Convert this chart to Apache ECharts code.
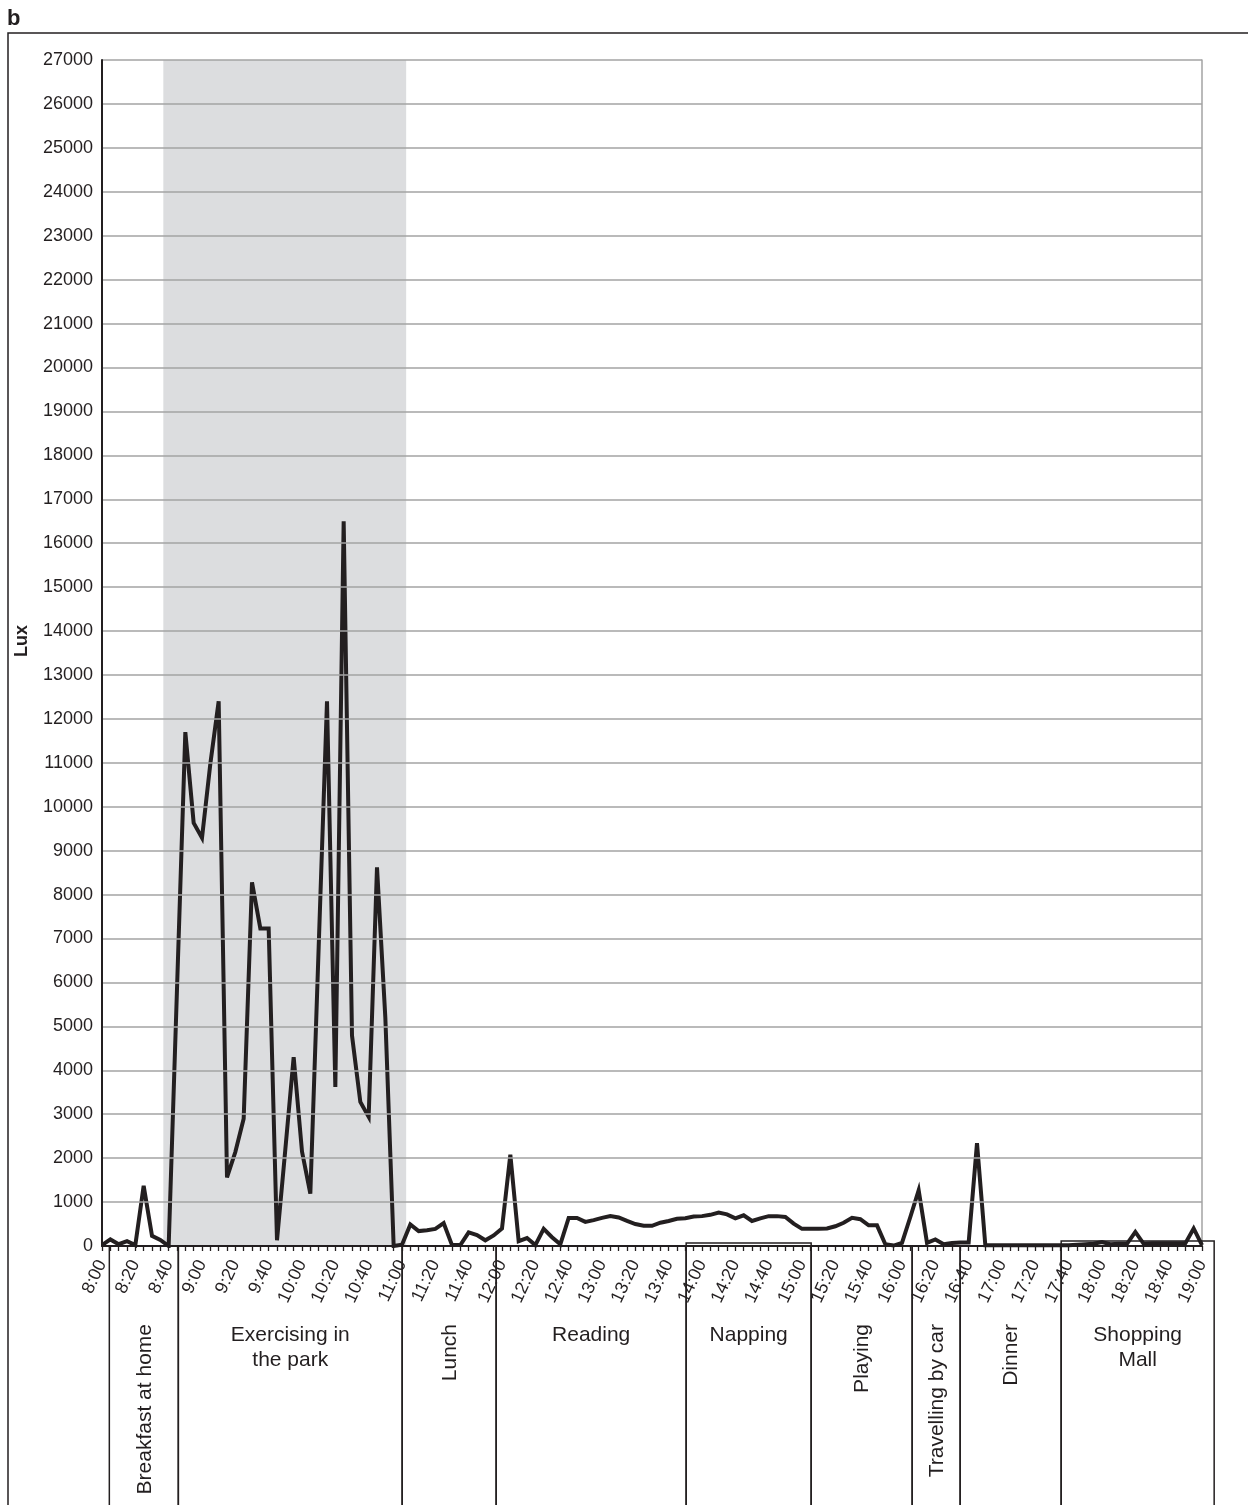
<!DOCTYPE html>
<html>
<head>
<meta charset="utf-8">
<script src="https://cdn.jsdelivr.net/npm/echarts@6/dist/echarts.min.js"></script>
<style>
  html, body { margin: 0; padding: 0; background: #ffffff; }
  #chart { width: 1248px; height: 1505px; }
</style>
</head>
<body>
<div id="chart"></div>
<script>
// ---- Data (lux measured every 5 minutes from 8:00 to 19:00) ----
const lux = [
  20, 150, 40, 110, 20, 1370, 230, 140, 0, 5850,
  11700, 9630, 9290, 10980, 12400, 1560, 2140, 2900, 8280, 7230,
  7230, 130, 2200, 4300, 2150, 1190, 6800, 12400, 3620, 16500,
  4790, 3280, 2940, 8620, 5200, 0, 30, 490, 340, 360,
  390, 520, 20, 20, 310, 250, 130, 240, 400, 2080,
  110, 180, 20, 390, 200, 40, 640, 640, 550, 590,
  640, 680, 650, 570, 500, 460, 460, 530, 570, 620,
  630, 670, 680, 710, 760, 720, 630, 700, 570, 630,
  680, 680, 660, 510, 390, 390, 390, 400, 450, 530,
  640, 610, 470, 470, 40, 10, 70, 660, 1270, 70,
  150, 40, 70, 80, 80, 2340, 15, 15, 15, 15,
  15, 15, 15, 15, 15, 15, 15, 30, 40, 50,
  90, 40, 50, 50, 320, 50, 60, 60, 60, 60,
  60, 400, 20
];
const sampleStepMin = 5;                 // sampling interval (minutes after 8:00)
const startHour = 8;

// Shaded (outdoor) period, minutes after 8:00
const shadeStart = 36.8;
const shadeEnd = 182.5;

// Activities (minutes after 8:00)
const activityNames = ['Breakfast at home', 'Exercising in\nthe park', 'Lunch', 'Reading', 'Napping',
                       'Playing', 'Travelling by car', 'Dinner', 'Shopping\nMall'];
const activityStart = [4.4, 45.8, 180.1, 236.5, 350.5, 425.5, 486.1, 514.9, 575.5];
const activityEnd   = [45.8, 180.1, 236.5, 350.5, 425.5, 486.1, 514.9, 575.5, 667.3];
const activityVertical = [true, false, true, false, false, true, true, true, false];
const activityBoxRaise = [0, 0, 0, 0, 3, 0, 0, 0, 5];

// axes
const yMin = 0, yMax = 27000, yStep = 1000;
const xMin = 0, xMax = 660, xStep = 20;

function fmtTime(m) {
  const h = startHour + Math.floor(m / 60);
  const mm = Math.round(m % 60);
  return h + ':' + String(mm).padStart(2, '0');
}

const seriesData = lux.map((v, i) => [i * sampleStepMin, v]);

const INK = '#231f20';
const FONT = '"Liberation Sans", Arial, Helvetica, sans-serif';

const chart = echarts.init(document.getElementById('chart'), null, { renderer: 'canvas' });

const option = {
  animation: false,
  backgroundColor: '#ffffff',
  title: {
    text: 'b', left: 2, top: 3,
    textStyle: { fontFamily: FONT, fontWeight: 'bold', fontSize: 22, color: INK }
  },
  grid: { left: 102, right: 46, top: 60, bottom: 259, containLabel: false },
  xAxis: {
    type: 'value', min: xMin, max: xMax, interval: xStep, z: 5,
    axisLine: { show: true, onZero: false, lineStyle: { color: INK, width: 2 } },
    axisTick: { show: true, length: 5, lineStyle: { color: INK, width: 1.3 } },
    minorTick: { show: true, splitNumber: 4, length: 5, lineStyle: { color: INK, width: 1.3 } },
    splitLine: { show: false },
    axisLabel: {
      rotate: 65, margin: 15, fontSize: 18, fontFamily: FONT, color: INK,
      formatter: (v) => fmtTime(v)
    }
  },
  yAxis: [{
    type: 'value', min: yMin, max: yMax, interval: yStep, z: 5,
    axisLine: { show: true, lineStyle: { color: INK, width: 2 } },
    axisTick: { show: false },
    splitLine: { show: true, lineStyle: { color: '#a3a3a3', width: 1.5 } },
    axisLabel: { margin: 9, fontSize: 18, fontFamily: FONT, color: INK, formatter: (v) => String(v) }
  }, {
    type: 'value', min: yMin, max: yMax, interval: yStep, position: 'right',
    axisLine: { show: true, lineStyle: { color: '#a3a3a3', width: 1.5 } },
    axisTick: { show: false }, axisLabel: { show: false }, splitLine: { show: false }
  }],
  series: [{
    type: 'line',
    data: seriesData,
    showSymbol: false,
    symbol: 'none',
    lineStyle: { color: INK, width: 4, join: 'miter', miterLimit: 6 },
    markArea: {
      silent: true,
      itemStyle: { color: '#dcdddf', opacity: 1 },
      data: [[{ xAxis: shadeStart }, { xAxis: shadeEnd }]]
    },
    z: 3
  }]
};
chart.setOption(option);

// ---- annotations (positions computed through the chart's own scales) ----
const graphics = [];
const axisY = chart.convertToPixel({ gridIndex: 0 }, [0, 0])[1];
const pageBottom = 1512;

// outer frame
graphics.push({
  type: 'polyline', z: 100,
  shape: { points: [[8, 1510], [8, 33], [1250, 33]] },
  style: { stroke: INK, lineWidth: 1.5, fill: null }
});
// y-axis title
graphics.push({
  type: 'text', z: 100, x: 22, y: 641, rotation: Math.PI / 2,
  style: { text: 'Lux', font: 'bold 18px ' + FONT, fill: INK, align: 'center', verticalAlign: 'middle' }
});

activityNames.forEach((name, k) => {
  const x1 = chart.convertToPixel({ gridIndex: 0 }, [activityStart[k], 0])[0];
  const x2 = chart.convertToPixel({ gridIndex: 0 }, [activityEnd[k], 0])[0];
  const top = axisY - activityBoxRaise[k];
  graphics.push({
    type: 'rect', z: 100,
    shape: { x: x1, y: top, width: x2 - x1, height: pageBottom - top },
    style: { stroke: INK, lineWidth: 1.5, fill: null }
  });
  const cx = (x1 + x2) / 2;
  if (activityVertical[k]) {
    graphics.push({
      type: 'text', z: 101, x: cx + 1, y: 1324, rotation: Math.PI / 2,
      style: { text: name, font: '21px ' + FONT, fill: INK, align: 'right', verticalAlign: 'middle' }
    });
  } else {
    graphics.push({
      type: 'text', z: 101, x: cx, y: 1323,
      style: { text: name, font: '21px ' + FONT, fill: INK, align: 'center', verticalAlign: 'top', lineHeight: 25 }
    });
  }
});

chart.setOption({ graphic: graphics });
</script>
</body>
</html>
